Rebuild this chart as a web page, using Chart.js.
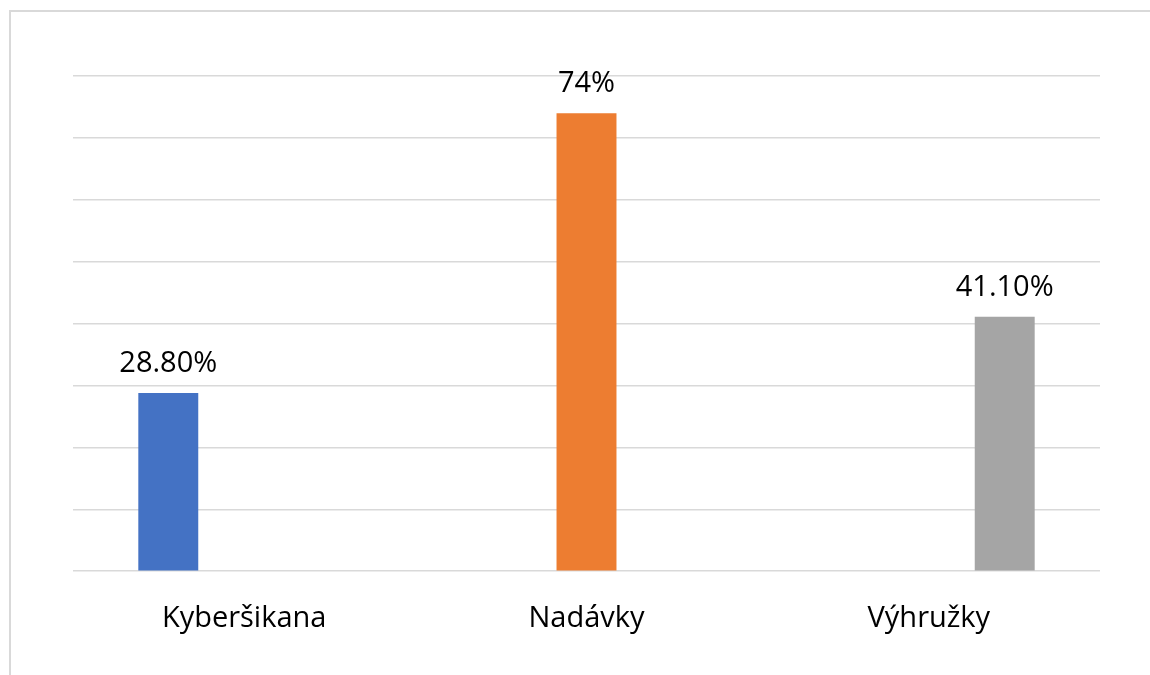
<!DOCTYPE html>
<html>
<head>
<meta charset="utf-8">
<script src="https://cdn.jsdelivr.net/npm/chart.js@4"></script>
<style>
  html, body { margin: 0; padding: 0; background: #fff; }
  #wrap { position: relative; width: 1150px; height: 675px; overflow: hidden; }
  #frame { position: absolute; left: 9px; top: 10px; width: 1200px; height: 700px;
           border-left: 2px solid #d9d9d9; border-top: 2px solid #d9d9d9; }
  canvas { position: absolute; left: 0; top: 0; }
</style>
</head>
<body>
<div id="wrap">
  <div id="frame"></div>
  <canvas id="chart" width="1150" height="675"></canvas>
</div>
<script>
// kategorie a hodnoty
const categories = ['Kyberšikana', 'Nadávky', 'Výhružky'];
const values = [28.8, 74, 41.1];
const valueLabels = ['28.80%', '74%', '41.10%'];
const colors = ['#4472C4', '#ED7D31', '#A5A5A5'];

// kazda kategorie je samostatna rada (jako v Excelu)
const datasets = categories.map((name, i) => ({
    label: name,
    data: categories.map((c, j) => (j === i ? values[i] : null)),
    backgroundColor: colors[i],
    categoryPercentage: 0.665,
    barPercentage: 0.79
}));

// popisky hodnot nad sloupci
const valueLabelPlugin = {
    id: 'valueLabels',
    afterDatasetsDraw(chart) {
        const ctx = chart.ctx;
        ctx.save();
        ctx.font = '29px "Open Sans"';
        ctx.fillStyle = '#000';
        ctx.textAlign = 'center';
        ctx.textBaseline = 'alphabetic';
        chart.data.datasets.forEach((ds, i) => {
            const meta = chart.getDatasetMeta(i);
            meta.data.forEach((bar, j) => {
                if (ds.data[j] == null) return;
                ctx.fillText(valueLabels[i], bar.x, bar.y - 21);
            });
        });
        ctx.restore();
    }
};

window.onload = function() {
    const ctx = document.getElementById('chart').getContext('2d');
    new Chart(ctx, {
        type: 'bar',
        data: { labels: categories, datasets: datasets },
        options: {
            responsive: false,
            animation: false,
            layout: { padding: { left: 73, right: 50, top: 76, bottom: 17 } },
            plugins: { legend: { display: false }, tooltip: { enabled: false } },
            scales: {
                x: {
                    grid: { display: false },
                    border: { display: false },
                    ticks: { color: '#000', font: { family: 'Open Sans', size: 29 }, padding: 22 }
                },
                y: {
                    min: 0,
                    max: 80,
                    ticks: { display: false, stepSize: 10 },
                    border: { display: false },
                    grid: { color: '#d9d9d9', lineWidth: 1.5, drawTicks: false }
                }
            }
        },
        plugins: [valueLabelPlugin]
    });
};
</script>
</body>
</html>
